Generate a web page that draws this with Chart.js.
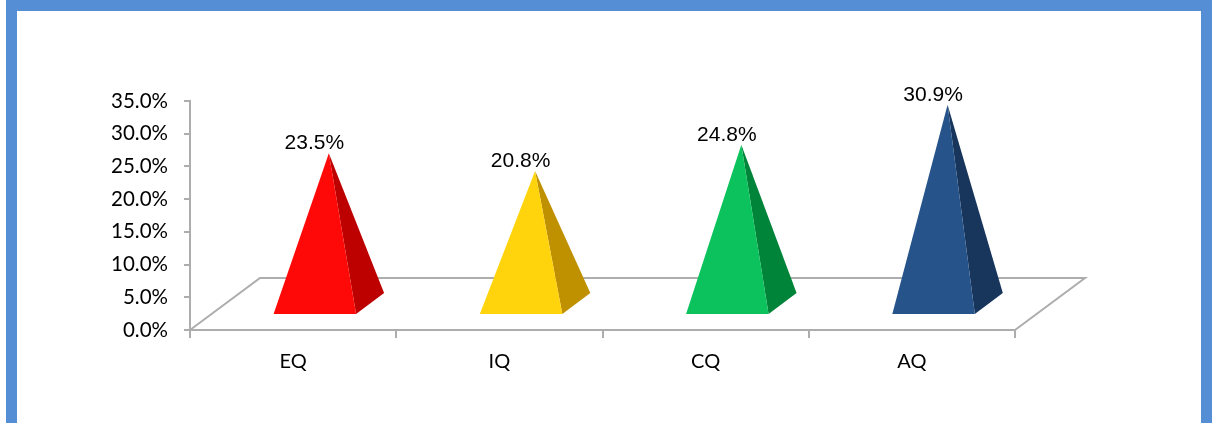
<!DOCTYPE html>
<html>
<head>
<meta charset="utf-8">
<script src="https://cdn.jsdelivr.net/npm/chart.js@4/dist/chart.umd.min.js"></script>
<style>
    html, body { margin: 0; padding: 0; background: #fff; overflow: hidden; }
    #wrap { position: relative; width: 1212px; height: 423px; }
    #chart { position: absolute; left: 0; top: 0; }
    #frame {
        position: absolute; left: 6px; top: 0; width: 1184px; height: 440px;
        border: 11px solid #558ED5; border-bottom: none; pointer-events: none;
    }
</style>
</head>
<body>
<div id="wrap">
    <canvas id="chart" width="1212" height="423"></canvas>
    <div id="frame"></div>
</div>
<script>
// данные
const categories = ['EQ', 'IQ', 'CQ', 'AQ'];
const values = [23.5, 20.8, 24.8, 30.9];
const yTicks = [0, 5, 10, 15, 20, 25, 30, 35];

// стили
const frontColors = ['#FF0808', '#FFD40D', '#0BC25C', '#26548A'];
const sideColors = ['#BD0000', '#BF9100', '#00843A', '#18365C'];
const axisGray = '#ADADAD';
const DEPTH = { dx: 70, dy: -52 };   // глубина "пола" в 3D

// пол + пирамиды
const pyramidPlugin = {
    id: 'pyramids',
    beforeDatasetsDraw(chart) {
        const { ctx, chartArea: a } = chart;
        ctx.save();
        ctx.strokeStyle = axisGray;
        ctx.lineWidth = 2;
        ctx.beginPath();
        ctx.moveTo(a.left, a.bottom);
        ctx.lineTo(a.left + DEPTH.dx, a.bottom + DEPTH.dy);
        ctx.lineTo(a.right + DEPTH.dx, a.bottom + DEPTH.dy);
        ctx.lineTo(a.right, a.bottom);
        ctx.stroke();
        ctx.restore();
    },
    afterDatasetsDraw(chart) {
        const { ctx, scales } = chart;
        const meta = chart.getDatasetMeta(0);
        const catW = scales.x.width / categories.length;
        const hw = catW * 0.2;
        const f0 = 0.31, f1 = 0.71;
        const base = scales.y.getPixelForValue(0);

        ctx.save();
        meta.data.forEach((bar, i) => {
            const cx = bar.x;
            const fl = { x: cx - hw + DEPTH.dx * f0, y: base + DEPTH.dy * f0 };
            const fr = { x: cx + hw + DEPTH.dx * f0, y: base + DEPTH.dy * f0 };
            const br = { x: cx + hw + DEPTH.dx * f1, y: base + DEPTH.dy * f1 };
            const apex = {
                x: cx + DEPTH.dx * (f0 + f1) / 2,
                y: scales.y.getPixelForValue(values[i]) - 23
            };

            // правая грань
            ctx.fillStyle = sideColors[i];
            ctx.beginPath();
            ctx.moveTo(fr.x, fr.y);
            ctx.lineTo(br.x, br.y);
            ctx.lineTo(apex.x, apex.y);
            ctx.closePath();
            ctx.fill();

            // передняя грань
            ctx.fillStyle = frontColors[i];
            ctx.beginPath();
            ctx.moveTo(fl.x, fl.y);
            ctx.lineTo(fr.x, fr.y);
            ctx.lineTo(apex.x, apex.y);
            ctx.closePath();
            ctx.fill();

            // подпись значения
            ctx.fillStyle = '#000';
            ctx.font = '21px "Liberation Sans", Arial, sans-serif';
            ctx.textAlign = 'center';
            ctx.textBaseline = 'alphabetic';
            ctx.fillText(values[i].toFixed(1) + '%', apex.x - 14.5, apex.y - 4);
        });
        ctx.restore();
    }
};

new Chart(document.getElementById('chart'), {
    type: 'bar',
    data: {
        labels: categories,
        datasets: [{
            data: values,
            backgroundColor: 'rgba(0,0,0,0)',
            borderWidth: 0
        }]
    },
    options: {
        responsive: false,
        animation: false,
        devicePixelRatio: 1,
        layout: { padding: { top: 101, left: 0, right: 197, bottom: 0 } },
        plugins: {
            legend: { display: false },
            tooltip: { enabled: false }
        },
        scales: {
            x: {
                afterFit: (s) => { s.height = 93; },
                grid: {
                    offset: true,
                    drawOnChartArea: false,
                    drawTicks: true,
                    tickLength: 8,
                    color: axisGray,
                    lineWidth: 2
                },
                border: { display: true, color: axisGray, width: 2 },
                ticks: {
                    color: '#000',
                    padding: 12,
                    font: { family: 'Lato, "Open Sans", sans-serif', size: 20 }
                }
            },
            y: {
                min: 0,
                max: 35,
                afterFit: (s) => { s.width = 190; },
                afterBuildTicks: (s) => { s.ticks = yTicks.map(v => ({ value: v })); },
                grid: {
                    drawOnChartArea: false,
                    drawTicks: true,
                    tickLength: 6,
                    color: axisGray,
                    lineWidth: 2
                },
                border: { display: true, color: axisGray, width: 2 },
                ticks: {
                    color: '#000',
                    padding: 16,
                    font: { family: 'Lato, "Open Sans", sans-serif', size: 20.5 },
                    callback: (v) => Number(v).toFixed(1) + '%'
                }
            }
        }
    },
    plugins: [pyramidPlugin]
});
</script>
</body>
</html>
